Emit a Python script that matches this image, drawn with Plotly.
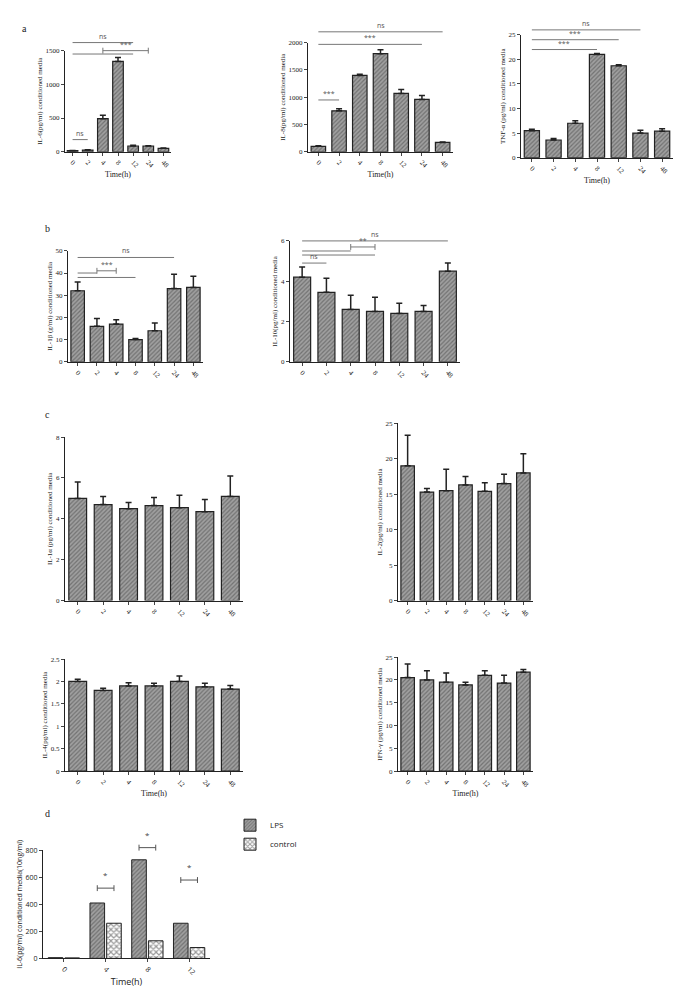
import plotly.graph_objects as go

times = ["0", "2", "4", "8", "12", "24", "48"]
times_d = ["0", "4", "8", "12"]

il6 = [15, 25, 490, 1340, 85, 85, 50]
il6_err = [5, 5, 50, 60, 10, 5, 5]
il8 = [100, 750, 1400, 1800, 1070, 960, 170]
il8_err = [10, 40, 20, 70, 70, 70, 10]
tnf = [5.5, 3.6, 7.0, 21.0, 18.7, 5.0, 5.4]
tnf_err = [0.3, 0.3, 0.5, 0.2, 0.2, 0.6, 0.5]
il1b = [32, 16, 17, 10, 14, 33, 33.5]
il1b_err = [4, 3.5, 2, 0.5, 3.5, 6.5, 5]
il10 = [4.2, 3.45, 2.6, 2.5, 2.4, 2.5, 4.5]
il10_err = [0.5, 0.7, 0.7, 0.7, 0.5, 0.3, 0.4]
il1a = [5.0, 4.7, 4.5, 4.65, 4.55, 4.35, 5.1]
il1a_err = [0.8, 0.4, 0.3, 0.4, 0.6, 0.6, 1.0]
il2 = [19, 15.3, 15.5, 16.3, 15.4, 16.5, 18]
il2_err = [4.3, 0.5, 3, 1.2, 1.2, 1.3, 2.7]
il4 = [2.0, 1.8, 1.9, 1.9, 2.0, 1.88, 1.83]
il4_err = [0.05, 0.05, 0.07, 0.06, 0.12, 0.08, 0.08]
ifn = [20.5, 20, 19.5, 18.9, 21, 19.3, 21.7]
ifn_err = [3, 2, 2, 0.6, 1, 1.7, 0.6]
lps = [5, 410, 730, 260]
control = [3, 260, 130, 80]

W, H = 682, 992

# (values, errors, y title, y max, dtick, pixel box x0,x1,ytop,ybottom)
panels = [
    (il6, il6_err, "IL-6(pg/ml) conditioned media", 1500, 500, (57, 163, 38, 140)),
    (il8, il8_err, "IL-8(pg/ml) conditioned media", 2000, 500, (300, 445, 30, 140)),
    (tnf, tnf_err, "TNF-α (pg/ml) conditioned media", 25, 5, (513, 665, 22, 146)),
    (il1b, il1b_err, "IL-1β (g/ml) conditioned media", 50, 10, (60, 195, 240, 352)),
    (il10, il10_err, "IL-10(pg/ml) conditioned media", 6, 2, (282, 452, 230, 352)),
    (il1a, il1a_err, "IL-1α (pg/ml) conditioned media", 8, 2, (57, 235, 428, 593)),
    (il2, il2_err, "IL-2(pg/ml) conditioned media", 25, 5, (390, 525, 414, 593)),
    (il4, il4_err, "IL-4(pg/ml) conditioned media", 2.5, 0.5, (57, 235, 652, 765)),
    (ifn, ifn_err, "IFN-γ (pg/ml) conditioned media", 25, 5, (390, 525, 650, 765)),
]
show_time = [True, True, True, False, False, False, False, True, True]

# significance lines: (panel, x0, x1, y, label)
sig_lines = [
    (0, 0, 4, 1620, "ns"), (0, 0, 4, 1450, ""), (0, 0, 1, 180, "ns"),
    (1, 0, 6, 2200, "ns"), (1, 0, 5, 1970, "***"), (1, 0, 1, 950, "***"),
    (2, 0, 5, 26, "ns"), (2, 0, 4, 24, "***"), (2, 0, 3, 22, "***"),
    (3, 0, 5, 47, "ns"), (3, 0, 1, 40, ""), (3, 0, 3, 38, ""),
    (4, 0, 6, 6.0, "ns"), (4, 0, 2, 5.5, ""), (4, 0, 3, 5.3, ""), (4, 0, 1, 4.9, "ns"),
]
# brackets: (panel, x0, x1, y, label)
sig_brackets = [(0, 2, 5, 1500, "***"), (3, 1, 2, 41, "***"), (4, 2, 3, 5.7, "**")]
d_brackets = [(1, 520, "*"), (2, 820, "*"), (3, 580, "*")]

serif = "Liberation Serif"
black = "#222"
fig = go.Figure()
layout = {}
for i, (vals, errs, title, ymax, dt, (px0, px1, pyt, pyb)) in enumerate(panels):
    n = "" if i == 0 else str(i + 1)
    fig.add_trace(go.Bar(
        x=times, y=vals, xaxis="x" + n, yaxis="y" + n, width=0.7,
        marker=dict(color="#a0a0a0", line=dict(color=black, width=1.2),
                    pattern=dict(shape="/", size=3, fgcolor="#444", solidity=0.4)),
        error_y=dict(type="data", array=errs, arrayminus=[0] * len(errs),
                     color=black, thickness=1.5, width=3),
        showlegend=False))
    layout["xaxis" + n] = dict(domain=[px0 / W, px1 / W], anchor="y" + n,
                               tickangle=45, tickfont=dict(size=7, family=serif, color=black),
                               showline=True, linecolor=black, ticks="outside", ticklen=3,
                               title=dict(text="Time(h)" if show_time[i] else "",
                                          font=dict(size=8, family=serif, color=black), standoff=2))
    layout["yaxis" + n] = dict(domain=[1 - pyb / H, 1 - pyt / H], anchor="x" + n,
                               range=[0, ymax], dtick=dt, showgrid=False,
                               tickfont=dict(size=7, family=serif, color=black),
                               showline=True, linecolor=black, ticks="outside", ticklen=3,
                               title=dict(text=title, font=dict(size=7, family=serif, color=black),
                                          standoff=2))

# panel d
fig.add_trace(go.Bar(x=times_d, y=lps, name="LPS", xaxis="x10", yaxis="y10", width=0.35,
                     marker=dict(color="#a0a0a0", line=dict(color=black, width=1),
                                 pattern=dict(shape="/", size=3, fgcolor="#444", solidity=0.4))))
fig.add_trace(go.Bar(x=times_d, y=control, name="control", xaxis="x10", yaxis="y10", width=0.35,
                     marker=dict(color="white", line=dict(color=black, width=1),
                                 pattern=dict(shape="x", size=4, fgcolor="#333", solidity=0.5))))
d_box = (35, 202, 845, 954)
d_max = 800
layout["xaxis10"] = dict(domain=[d_box[0] / W, d_box[1] / W], anchor="y10", tickangle=45,
                         tickfont=dict(size=7, color=black), showline=True, linecolor=black,
                         ticks="outside", ticklen=3,
                         title=dict(text="Time(h)", font=dict(size=9, color=black), standoff=2))
layout["yaxis10"] = dict(domain=[1 - d_box[3] / H, 1 - d_box[2] / H], anchor="x10",
                         range=[0, d_max], dtick=200, showgrid=False,
                         tickfont=dict(size=7, color=black), showline=True,
                         linecolor=black, ticks="outside", ticklen=3,
                         title=dict(text="IL-6(pg/ml) conditioned media(10ng/ml)",
                                    font=dict(size=7, color=black), standoff=2))


def to_paper(box, ymax, y):
    # data value -> paper y, so lines above the axis range are not clipped
    bot, top = 1 - box[3] / H, 1 - box[2] / H
    return bot + y / ymax * (top - bot)


shapes, annots = [], []
line_style = dict(color="#777", width=1)
for p, a, b, y, lab in sig_lines:
    n = "" if p == 0 else str(p + 1)
    yp = to_paper(panels[p][5], panels[p][3], y)
    shapes.append(dict(type="line", xref="x" + n, yref="paper", x0=a, x1=b, y0=yp, y1=yp,
                       line=line_style))
    if lab:
        annots.append(dict(x=(a + b) / 2, y=yp, xref="x" + n, yref="paper", text=lab,
                           showarrow=False, yanchor="bottom", font=dict(size=7, color="#555")))
for p, a, b, y, lab in sig_brackets:
    n = "" if p == 0 else str(p + 1)
    yp = to_paper(panels[p][5], panels[p][3], y)
    shapes.append(dict(type="line", xref="x" + n, yref="paper", x0=a, x1=b, y0=yp, y1=yp,
                       line=line_style))
    for xx in (a, b):
        shapes.append(dict(type="line", xref="x" + n, yref="paper", x0=xx, x1=xx,
                           y0=yp - 0.003, y1=yp + 0.003, line=line_style))
    annots.append(dict(x=(a + b) / 2, y=yp, xref="x" + n, yref="paper", text=lab,
                       showarrow=False, yanchor="bottom", font=dict(size=7, color="#555")))
for c, y, lab in d_brackets:
    yp = to_paper(d_box, d_max, y)
    shapes.append(dict(type="line", xref="x10", yref="paper", x0=c - 0.2, x1=c + 0.2,
                       y0=yp, y1=yp, line=dict(color="#555", width=1)))
    for xx in (c - 0.2, c + 0.2):
        shapes.append(dict(type="line", xref="x10", yref="paper", x0=xx, x1=xx,
                           y0=yp - 0.003, y1=yp + 0.003, line=dict(color="#555", width=1)))
    annots.append(dict(x=c, y=yp + 0.006, xref="x10", yref="paper", text=lab, showarrow=False,
                       yanchor="bottom", font=dict(size=8, color="#444")))

for lab, px, py in [("a", 12, 8), ("b", 35, 210), ("c", 35, 405), ("d", 35, 815)]:
    annots.append(dict(x=px / W, y=1 - py / H, xref="paper", yref="paper", text=lab,
                       showarrow=False, font=dict(size=10, family=serif, color=black)))

fig.update_layout(width=W, height=H, margin=dict(l=0, r=0, t=0, b=0),
                  paper_bgcolor="white", plot_bgcolor="white", barmode="group",
                  shapes=shapes, annotations=annots,
                  legend=dict(x=222 / W, y=1 - 805 / H, xanchor="left", yanchor="top",
                              font=dict(size=8, color=black), tracegroupgap=12),
                  **layout)
fig.write_html("out.html")
